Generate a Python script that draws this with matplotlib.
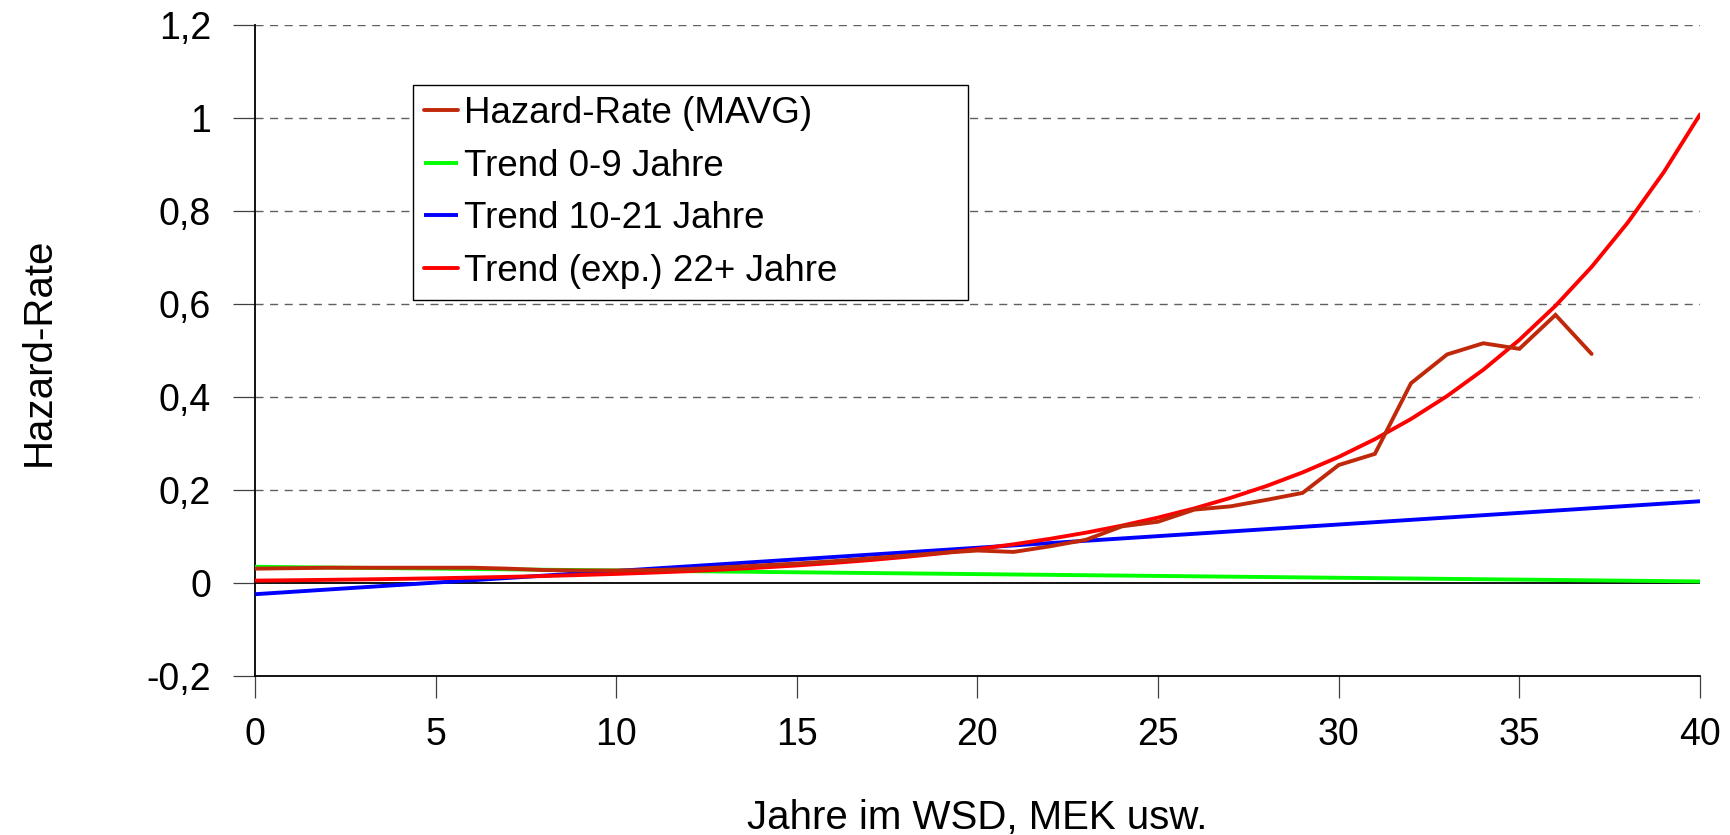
import matplotlib
matplotlib.use("Agg")
import matplotlib.pyplot as plt

plt.rcParams["font.family"] = ["Liberation Sans", "DejaVu Sans"]

# Hazard-Rate (moving average), years 0..37
hazard_years = list(range(0, 38))
hazard_rate = [
    0.031, 0.032, 0.033, 0.033, 0.033, 0.033, 0.033, 0.031, 0.028, 0.027,
    0.027, 0.028, 0.030, 0.034, 0.038, 0.042, 0.047, 0.053, 0.059, 0.065,
    0.070, 0.067, 0.079, 0.093, 0.122, 0.132, 0.158, 0.165, 0.179, 0.194,
    0.254, 0.278, 0.430, 0.492, 0.516, 0.504, 0.577, 0.493,
]

# linear trends, drawn over the whole axis (end points)
trend_lin_years = [0, 40]
trend_0_9 = [0.035, 0.0035]
trend_10_21 = [-0.024, 0.176]

# exponential trend 22+ years, read per year
trend_exp_years = list(range(0, 41))
trend_exp = [
    0.0053, 0.0060, 0.0069, 0.0079, 0.0090, 0.0102, 0.0117, 0.0133, 0.0151, 0.0173,
    0.0197, 0.0225, 0.0256, 0.0292, 0.0333, 0.0379, 0.0433, 0.0493, 0.0562, 0.0641,
    0.0731, 0.0834, 0.0951, 0.1084, 0.1236, 0.1409, 0.1606, 0.1832, 0.2088, 0.2381,
    0.2715, 0.3096, 0.3530, 0.4025, 0.4589, 0.5233, 0.5966, 0.6803, 0.7757, 0.8844,
    1.0084,
]

y_ticks = [-0.2, 0.0, 0.2, 0.4, 0.6, 0.8, 1.0, 1.2]
y_tick_labels = ["-0,2", "0", "0,2", "0,4", "0,6", "0,8", "1", "1,2"]
x_ticks = [0, 5, 10, 15, 20, 25, 30, 35, 40]

labels = [
    "Hazard-Rate (MAVG)",
    "Trend 0-9 Jahre",
    "Trend 10-21 Jahre",
    "Trend (exp.) 22+ Jahre",
]

W, H = 1731, 835
fig = plt.figure(figsize=(W / 100, H / 100), dpi=100)
ax = fig.add_axes([255 / W, 1 - 676 / H, (1700 - 255) / W, (676 - 25.4) / H])

lw = 2.8
l_green, = ax.plot(trend_lin_years, trend_0_9, color="#00ff00", lw=lw, zorder=3,
                   solid_capstyle="butt")
l_blue, = ax.plot(trend_lin_years, trend_10_21, color="#0000ff", lw=lw, zorder=4,
                  solid_capstyle="butt")
l_red, = ax.plot(trend_exp_years, trend_exp, color="#ff0000", lw=lw, zorder=5,
                 solid_capstyle="round")
l_haz, = ax.plot(hazard_years, hazard_rate, color="#c0280a", lw=lw, zorder=6,
                 solid_capstyle="round", solid_joinstyle="miter")

ax.axhline(0, color="black", lw=1.3, zorder=2)

ax.set_xlim(0, 40)
ax.set_ylim(-0.2, 1.2)
ax.set_xticks(x_ticks)
ax.set_yticks(y_ticks)
ax.set_yticklabels(y_tick_labels)

for y in y_ticks[2:]:
    ax.axhline(y, color="#606060", lw=1.0, linestyle=(0, (5.8, 4.7)), zorder=1)

for side in ["top", "right"]:
    ax.spines[side].set_visible(False)
for side in ["left", "bottom"]:
    ax.spines[side].set_linewidth(1.3)
    ax.spines[side].set_color("black")

ax.tick_params(axis="both", direction="out", length=15.5, width=0.9,
               color="#404040", labelsize=27)
ax.tick_params(axis="y", pad=16)
ax.tick_params(axis="x", pad=14)

fig.text(50 / W, 1 - 352 / H, "Hazard-Rate", rotation=90, rotation_mode="anchor",
         ha="center", va="baseline", fontsize=29)
fig.text(977 / W, 1 - 828.5 / H, "Jahre im WSD, MEK usw.", ha="center",
         va="baseline", fontsize=29)

leg = fig.legend(
    [l_haz, l_green, l_blue, l_red], labels,
    loc="upper left",
    bbox_to_anchor=(413 / W, 0.3, (968 - 413) / W, 1 - 85 / H - 0.3),
    mode="expand", borderaxespad=0, fontsize=26.5,
    handlelength=0.92, handletextpad=0.16, borderpad=0.3, labelspacing=0.48,
    fancybox=False, framealpha=1, edgecolor="black",
)
leg.get_frame().set_linewidth(1.0)

fig.savefig("out.png", dpi=100)
